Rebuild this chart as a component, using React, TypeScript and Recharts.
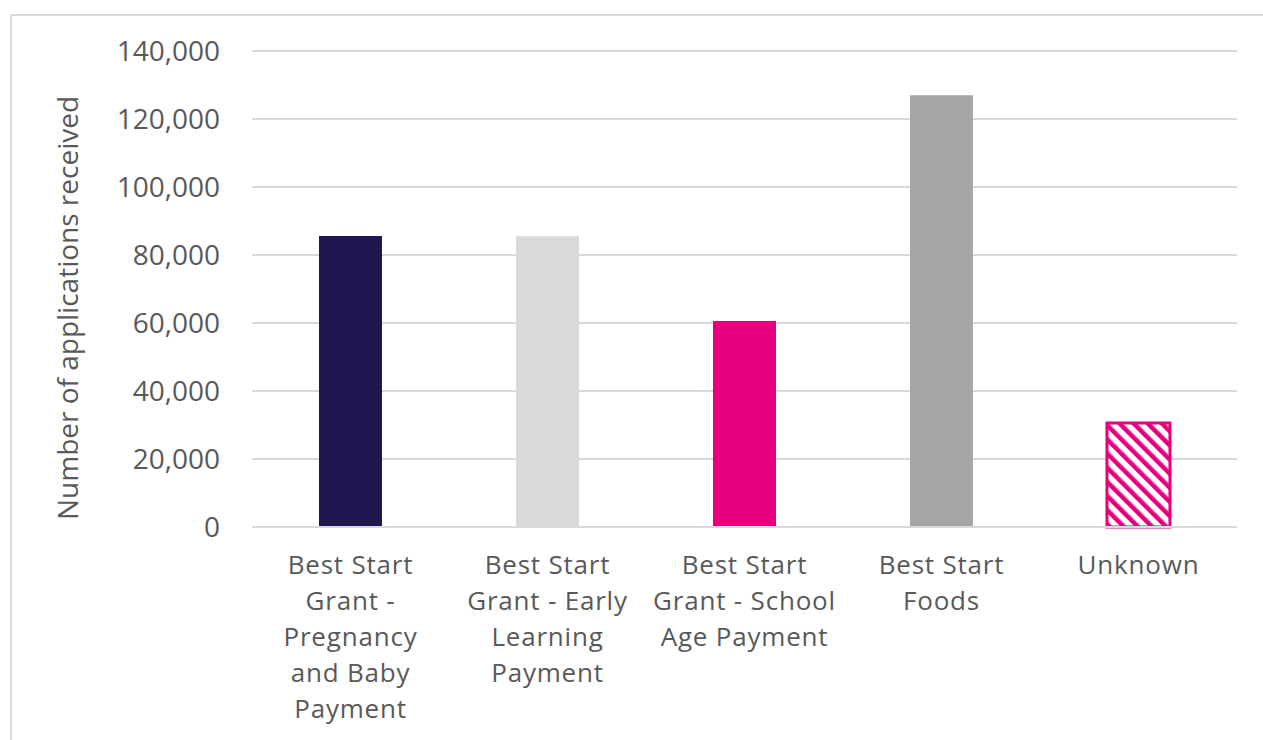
import React from "react";
import { BarChart, Bar, XAxis, YAxis, CartesianGrid, Cell, Label } from "recharts";

const categories = [
  "Best Start Grant - Pregnancy and Baby Payment",
  "Best Start Grant - Early Learning Payment",
  "Best Start Grant - School Age Payment",
  "Best Start Foods",
  "Unknown",
];
const tickLines: string[][] = [
  ["Best Start", "Grant -", "Pregnancy", "and Baby", "Payment"],
  ["Best Start", "Grant - Early", "Learning", "Payment"],
  ["Best Start", "Grant - School", "Age Payment"],
  ["Best Start", "Foods"],
  ["Unknown"],
];
const applications = [85600, 85500, 60600, 127000, 30600];
const barColors = ["#201751", "#D9D9D9", "#E6007E", "#A6A6A6", "url(#hatch)"];
const yTicks = [0, 20000, 40000, 60000, 80000, 100000, 120000, 140000];

const data = categories.map((c, i) => ({ category: c, value: applications[i], idx: i }));

const FONT = "'Open Sans', sans-serif";
const TEXT = "#595959";

const XTick = (props: any) => {
  const { x, y, index } = props;
  const lines = tickLines[index] || [];
  return (
    <text
      x={x}
      y={y}
      textAnchor="middle"
      fill={TEXT}
      fontFamily={FONT}
      fontSize={26}
      letterSpacing={0.8}
    >
      {lines.map((l, i) => (
        <tspan key={i} x={x} y={y + 30 + i * 36} dy="0.355em">
          {l}
        </tspan>
      ))}
    </text>
  );
};

const fmt = (v: number) => v.toLocaleString("en-US");

export default function App() {
  return (
    <div
      style={{
        position: "fixed",
        left: 0,
        top: 0,
        width: 1263,
        height: 740,
        overflow: "hidden",
        background: "#FFFFFF",
      }}
    >
      <div
        style={{
          position: "absolute",
          left: 10,
          top: 14,
          width: 1300,
          height: 800,
          border: "2px solid #D9D9D9",
          boxSizing: "border-box",
        }}
      />
      <div style={{ position: "absolute", left: 8, top: 8 }}>
        <BarChart
          width={1255}
          height={732}
          data={data}
          margin={{ top: 43, right: 26, bottom: 13, left: 0 }}
          barCategoryGap="34%"
        >
          <defs>
            <pattern id="hatch" patternUnits="userSpaceOnUse" width="10" height="10" patternTransform="rotate(-45)">
              <rect x="0" y="0" width="10" height="10" fill="#FFFFFF" />
              <rect x="0" y="0" width="4.5" height="10" fill="#E6007E" />
            </pattern>
          </defs>
          <CartesianGrid vertical={false} stroke="#D9D9D9" strokeWidth={2} />
          <XAxis
            dataKey="category"
            interval={0}
            tick={<XTick />}
            tickLine={false}
            axisLine={{ stroke: "#D9D9D9", strokeWidth: 2 }}
            height={200}
          />
          <YAxis
            domain={[0, 140000]}
            ticks={yTicks}
            tickFormatter={fmt}
            width={244}
            tickLine={false}
            axisLine={false}
            tickSize={0}
            tickMargin={32}
            tick={{ fill: TEXT, fontFamily: FONT, fontSize: 28 }}
          >
            <Label
              content={(p: any) => {
                const vb = p.viewBox || {};
                const cx = 59;
                const cy = vb.y + vb.height / 2 + 19;
                return (
                  <text
                    x={cx}
                    y={cy}
                    transform={`rotate(-90 ${cx} ${cy})`}
                    textAnchor="middle"
                    dominantBaseline="central"
                    fill={TEXT}
                    fontFamily={FONT}
                    fontSize={28}
                  >
                    Number of applications received
                  </text>
                );
              }}
            />
          </YAxis>
          <Bar dataKey="value" isAnimationActive={false}>
            {data.map((d, i) => (
              <Cell
                key={i}
                fill={barColors[i]}
                stroke={i === 4 ? "#E6007E" : "none"}
                strokeWidth={i === 4 ? 3 : 0}
              />
            ))}
          </Bar>
        </BarChart>
      </div>
    </div>
  );
}
